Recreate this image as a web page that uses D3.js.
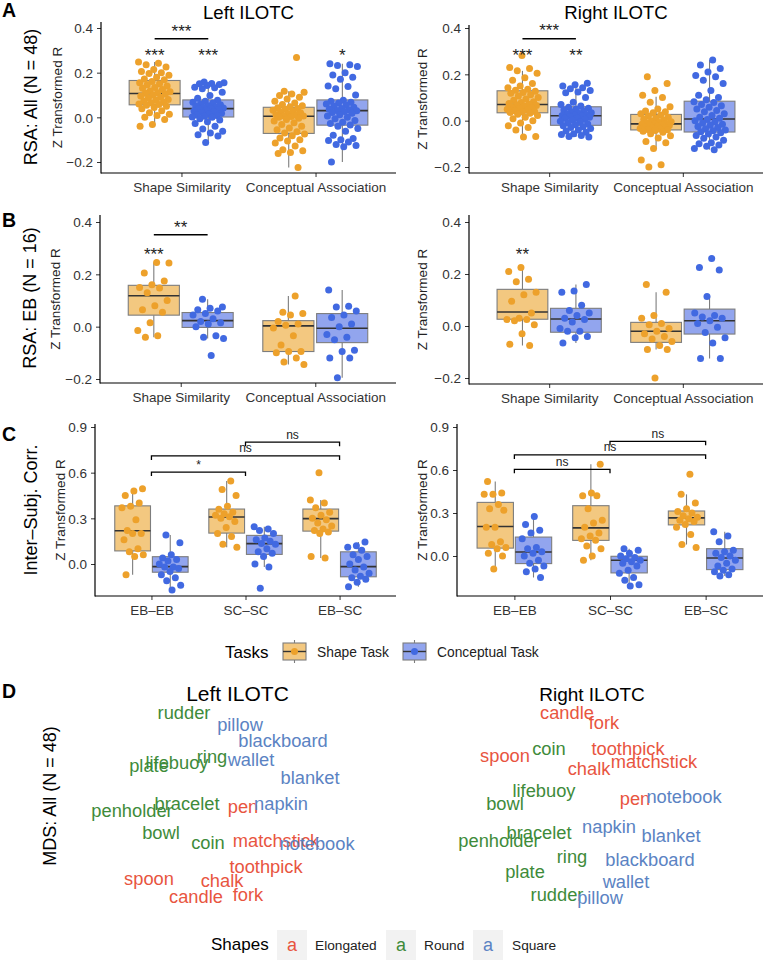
<!DOCTYPE html>
<html><head><meta charset="utf-8">
<script src="https://cdn.jsdelivr.net/npm/d3@7"></script>
<style>body{margin:0;background:#fff} svg text{font-family:"Liberation Sans",Arial,Helvetica,sans-serif}</style>
</head><body><svg id="c" width="765" height="960"></svg>
<script>
// ---------------- DATA ----------------
const TASKS = ["Shape Task", "Conceptual Task"];
const RSA_CATS = ["Shape Similarity", "Conceptual Association"];
const ISC_CATS = ["EB–EB", "SC–SC", "EB–SC"];
const RSA_TICKS = [-0.2, 0.0, 0.2, 0.4];
const ISC_TICKS = [0.0, 0.3, 0.6, 0.9];

// Panel A, Left ILOTC (N = 48)
const AL_shape_shapeTask = [0.248,0.242,0.236,0.225,0.214,0.205,0.200,0.196,0.188,0.180,0.172,0.168,
 0.160,0.155,0.150,0.146,0.140,0.134,0.130,0.125,0.118,0.114,0.110,0.108,
 0.104,0.100,0.095,0.090,0.086,0.080,0.076,0.072,0.068,0.064,0.060,0.057,
 0.054,0.050,0.044,0.038,0.030,0.020,0.014,0.008,0.000,-0.010,-0.032,-0.040];
const AL_shape_concTask = [0.158,0.155,0.152,0.150,0.147,0.142,0.135,0.132,0.128,0.112,0.098,0.085,
 0.076,0.072,0.068,0.064,0.060,0.056,0.052,0.050,0.046,0.044,0.042,0.040,
 0.038,0.035,0.032,0.028,0.025,0.022,0.018,0.014,0.010,0.008,0.005,0.002,
 0.000,-0.006,-0.012,-0.020,-0.028,-0.040,-0.052,-0.062,-0.070,-0.078,-0.084,-0.113];
const AL_conc_shapeTask = [0.268,0.117,0.112,0.105,0.098,0.090,0.082,0.072,0.064,0.058,0.052,0.047,
 0.043,0.040,0.036,0.032,0.028,0.024,0.020,0.016,0.012,0.009,0.007,0.006,
 0.004,0.000,-0.004,-0.010,-0.016,-0.024,-0.032,-0.040,-0.048,-0.056,-0.064,-0.070,
 -0.075,-0.082,-0.092,-0.100,-0.106,-0.115,-0.128,-0.145,-0.150,-0.158,-0.162,-0.225];
const AL_conc_concTask = [0.240,0.236,0.232,0.228,0.200,0.190,0.180,0.170,0.140,0.138,0.128,0.100,
 0.076,0.072,0.068,0.064,0.060,0.055,0.050,0.045,0.040,0.036,0.033,0.031,
 0.029,0.026,0.022,0.018,0.012,0.006,0.000,-0.006,-0.014,-0.022,-0.028,-0.034,
 -0.040,-0.050,-0.062,-0.080,-0.095,-0.100,-0.104,-0.110,-0.122,-0.126,-0.132,-0.200];
// box stats: [lower whisker, Q1, median, Q3, upper whisker]
const AL_boxes = [[-0.040,0.056,0.107,0.165,0.248],[-0.113,0.0015,0.039,0.078,0.158],
                  [-0.225,-0.072,0.005,0.045,0.117],[-0.200,-0.035,0.030,0.078,0.240]];

// Panel A, Right ILOTC
const AR_shape_shapeTask = [0.281,0.230,0.225,0.215,0.205,0.185,0.175,0.160,0.150,0.142,0.136,0.131,
 0.127,0.122,0.118,0.112,0.106,0.100,0.094,0.088,0.082,0.078,0.074,0.071,
 0.069,0.066,0.062,0.058,0.055,0.052,0.049,0.046,0.043,0.040,0.037,0.035,
 0.032,0.028,0.022,0.015,0.008,0.000,-0.010,-0.022,-0.030,-0.040,-0.068,-0.071];
const AR_shape_concTask = [0.162,0.155,0.150,0.142,0.138,0.130,0.124,0.120,0.100,0.080,0.070,0.063,
 0.058,0.054,0.050,0.046,0.042,0.038,0.034,0.031,0.028,0.025,0.023,0.022,
 0.020,0.018,0.015,0.012,0.010,0.006,0.002,-0.002,-0.006,-0.010,-0.014,-0.018,
 -0.022,-0.026,-0.030,-0.034,-0.040,-0.045,-0.050,-0.056,-0.060,-0.064,-0.068,-0.070];
const AR_conc_shapeTask = [0.190,0.160,0.130,0.110,0.100,0.080,0.060,0.050,0.042,0.038,0.034,0.030,
 0.025,0.020,0.015,0.010,0.006,0.002,-0.002,-0.005,-0.008,-0.010,-0.012,-0.013,
 -0.015,-0.017,-0.019,-0.021,-0.024,-0.027,-0.030,-0.032,-0.034,-0.036,-0.038,-0.039,
 -0.042,-0.046,-0.050,-0.056,-0.065,-0.075,-0.090,-0.095,-0.120,-0.170,-0.190,-0.200];
const AR_conc_concTask = [0.262,0.240,0.225,0.210,0.195,0.190,0.175,0.160,0.130,0.110,0.100,0.090,
 0.082,0.078,0.070,0.064,0.058,0.050,0.044,0.038,0.030,0.022,0.015,0.010,
 0.005,0.000,-0.005,-0.010,-0.015,-0.020,-0.025,-0.030,-0.035,-0.040,-0.044,-0.048,
 -0.052,-0.058,-0.064,-0.070,-0.076,-0.085,-0.095,-0.100,-0.105,-0.110,-0.120,-0.125];
const AR_boxes = [[-0.071,0.034,0.070,0.129,0.215],[-0.070,-0.020,0.021,0.060,0.162],
                  [-0.120,-0.040,-0.014,0.027,0.103],[-0.125,-0.049,0.007,0.084,0.262]];

// Panel B, EB (N = 16)
const BL_shape_shapeTask = [0.243,0.245,0.205,0.175,0.160,0.150,0.148,0.130,0.100,0.080,0.065,0.055,0.015,-0.015,-0.035,-0.040];
const BL_shape_concTask = [0.105,0.075,0.070,0.065,0.060,0.050,0.045,0.030,0.020,0.015,0.010,0.000,-0.035,-0.040,-0.045,-0.110];
const BL_conc_shapeTask = [0.117,0.055,0.050,0.045,0.020,0.010,0.005,-0.005,-0.035,-0.070,-0.095,-0.095,-0.100,-0.120,-0.135,-0.145];
const BL_conc_concTask = [0.140,0.078,0.075,0.060,0.045,0.035,0.010,0.000,-0.030,-0.040,-0.050,-0.090,-0.095,-0.120,-0.120,-0.195];
const BL_boxes = [[-0.040,0.044,0.118,0.158,0.245],[-0.045,-0.003,0.023,0.054,0.105],
                  [-0.145,-0.095,0.003,0.023,0.117],[-0.195,-0.061,-0.006,0.050,0.140]];
const BR_shape_shapeTask = [0.225,0.210,0.180,0.170,0.130,0.120,0.095,0.050,0.030,0.025,0.025,0.020,0.005,-0.030,-0.070,-0.075];
const BR_shape_concTask = [0.160,0.135,0.130,0.080,0.060,0.050,0.040,0.030,0.025,0.015,-0.010,-0.020,-0.020,-0.040,-0.045,-0.065];
const BR_conc_shapeTask = [0.160,0.130,0.040,0.030,0.010,0.005,-0.010,-0.020,-0.030,-0.040,-0.050,-0.060,-0.075,-0.090,-0.090,-0.200];
const BR_conc_concTask = [0.260,0.225,0.215,0.113,0.050,0.040,0.035,0.030,0.020,0.010,-0.005,-0.025,-0.045,-0.065,-0.125,-0.125];
const BR_boxes = [[-0.075,0.026,0.054,0.141,0.225],[-0.065,-0.024,0.027,0.068,0.160],
                  [-0.090,-0.063,-0.020,0.014,0.130],[-0.125,-0.031,0.020,0.065,0.113]];

// Panel C, inter-subject correlation
const CL_EBEB_shapeTask = [0.495,0.480,0.450,0.400,0.380,0.370,0.290,0.220,0.200,0.200,0.160,0.100,0.080,0.060,0.050,-0.070];
const CL_EBEB_concTask = [0.190,0.140,0.060,0.040,0.030,0.020,0.000,-0.020,-0.020,-0.030,-0.050,-0.070,-0.090,-0.110,-0.140,-0.170];
const CL_SCSC_shapeTask = [0.545,0.490,0.450,0.380,0.360,0.340,0.330,0.320,0.310,0.300,0.280,0.240,0.200,0.180,0.130,0.110];
const CL_SCSC_concTask = [0.245,0.230,0.220,0.200,0.170,0.160,0.150,0.135,0.130,0.100,0.080,0.070,0.050,0.000,-0.020,-0.160];
const CL_EBSC_shapeTask = [0.600,0.420,0.400,0.370,0.340,0.320,0.300,0.290,0.270,0.250,0.230,0.220,0.210,0.200,0.050,0.040];
const CL_EBSC_concTask = [0.145,0.120,0.110,0.090,0.060,0.050,0.030,0.000,-0.020,-0.040,-0.060,-0.080,-0.090,-0.100,-0.120,-0.150];
const CL_boxes = [[-0.070,0.086,0.218,0.382,0.495],[-0.170,-0.054,-0.017,0.048,0.190],
                  [0.110,0.203,0.309,0.361,0.545],[-0.020,0.063,0.134,0.188,0.245],
                  [0.040,0.216,0.298,0.361,0.420],[-0.150,-0.084,-0.017,0.080,0.145]];
const CR_EBEB_shapeTask = [0.520,0.440,0.430,0.430,0.360,0.330,0.320,0.200,0.200,0.100,0.080,0.060,0.050,0.020,0.000,-0.090];
const CR_EBEB_concTask = [0.275,0.220,0.180,0.160,0.120,0.060,0.050,0.030,0.020,0.000,-0.030,-0.050,-0.070,-0.090,-0.110,-0.150];
const CR_SCSC_shapeTask = [0.640,0.440,0.420,0.420,0.330,0.250,0.230,0.200,0.160,0.140,0.120,0.110,0.070,0.050,0.000,-0.030];
const CR_SCSC_concTask = [0.050,0.040,0.020,0.000,-0.010,-0.020,-0.030,-0.040,-0.050,-0.070,-0.100,-0.120,-0.150,-0.170,-0.200,-0.210];
const CR_EBSC_shapeTask = [0.570,0.430,0.370,0.330,0.310,0.300,0.280,0.270,0.260,0.250,0.240,0.220,0.200,0.150,0.080,0.060];
const CR_EBSC_concTask = [0.170,0.140,0.100,0.040,0.030,0.020,0.000,-0.010,-0.030,-0.050,-0.070,-0.090,-0.100,-0.110,-0.130,-0.140];
const CR_boxes = [[-0.090,0.055,0.206,0.374,0.520],[-0.150,-0.053,0.028,0.132,0.275],
                  [-0.030,0.109,0.196,0.351,0.640],[-0.210,-0.118,-0.030,-0.002,0.050],
                  [0.080,0.217,0.266,0.314,0.430],[-0.140,-0.095,-0.014,0.051,0.170]];

// significance annotations (y in data units)
const AL_marks = [{cat:"Shape Similarity",task:0,label:"***",v:0.297},{cat:"Shape Similarity",task:1,label:"***",v:0.297},{cat:"Conceptual Association",task:1,label:"*",v:0.297}];
const AR_marks = [{cat:"Shape Similarity",task:0,label:"***",v:0.299},{cat:"Shape Similarity",task:1,label:"**",v:0.299}];
const BL_marks = [{cat:"Shape Similarity",task:0,label:"***",v:0.291}];
const BR_marks = [{cat:"Shape Similarity",task:0,label:"**",v:0.292}];
const AL_pair = [{cat:"Shape Similarity",label:"***",line:0.352,text:0.404}];
const AR_pair = [{cat:"Shape Similarity",label:"***",line:0.354,text:0.407}];
const BL_pair = [{cat:"Shape Similarity",label:"**",line:0.351,text:0.395}];
const BR_pair = [];
const CL_brackets = [{from:"EB–EB",to:"SC–SC",label:"*",v:0.604},{from:"EB–EB",to:"EB–SC",label:"ns",v:0.71},{from:"SC–SC",to:"EB–SC",label:"ns",v:0.80}];
const CR_brackets = [{from:"EB–EB",to:"SC–SC",label:"ns",v:0.605},{from:"EB–EB",to:"EB–SC",label:"ns",v:0.705},{from:"SC–SC",to:"EB–SC",label:"ns",v:0.80}];

// Panel D: MDS coordinates (dim1, dim2)
const SHAPES = ["Elongated","Round","Square"];
const MDS_words = ["rudder","pillow","blackboard","ring","wallet","lifebuoy","plate","blanket","bracelet","pen","napkin","penholder","bowl","coin","matchstick","notebook","toothpick","spoon","chalk","candle","fork"];
const MDS_shape = ["Round","Square","Square","Round","Square","Round","Round","Square","Round","Elongated","Square","Round","Round","Round","Elongated","Square","Elongated","Elongated","Elongated","Elongated","Elongated"];
const MDS_left_d1 = [-0.56,0.00,0.43,-0.28,0.11,-0.63,-0.91,0.70,-0.53,0.03,0.41,-1.08,-0.79,-0.32,0.36,0.77,0.26,-0.91,-0.18,-0.44,0.08];
const MDS_left_d2 = [0.92,0.80,0.64,0.48,0.45,0.42,0.39,0.27,0.01,-0.02,0.01,-0.06,-0.28,-0.38,-0.36,-0.39,-0.62,-0.74,-0.76,-0.92,-0.90];
const MDS_right_d1 = [-0.43,0.00,0.50,-0.28,0.26,-0.56,-0.75,0.71,-0.61,0.35,0.09,-1.01,-0.95,-0.51,0.54,0.84,0.28,-0.95,-0.11,-0.33,0.04];
const MDS_right_d2 = [-0.90,-0.93,-0.55,-0.52,-0.77,0.14,-0.67,-0.31,-0.28,0.06,-0.22,-0.36,0.01,0.56,0.43,0.08,0.56,0.49,0.36,0.92,0.82];

// ---------------- STYLE ----------------
const PT = ["#EDA12B", "#4169E1"];
const BOXF = ["#F3C880", "#92A5EE"];
const SHAPE_COL = {Elongated:"#E8553F", Round:"#3E8B3A", Square:"#5B83C3"};
const TXT = "#222";

const svg = d3.select("#c");
const fmt = d3.format(".1f");

function jit(i, seed){ const f = (i*0.6180339887 + seed*0.3711) % 1; return f - 0.5; }

function boxPanel(p){
  const g = svg.append("g");
  const x = d3.scalePoint().domain(p.cats).range([p.x0, p.x1]).padding(0.6);
  const step = x.step();
  const y = d3.scaleLinear().domain(p.dom).range(p.rng);
  const dodge = [-0.2*step, 0.2*step], bw = 0.38*step;
  p.groups.forEach(gr => {
    const cx = x(gr.cat) + dodge[gr.task];
    const [lw,q1,md,q3,uw] = gr.box;
    g.append("line").attr("x1",cx).attr("x2",cx).attr("y1",y(uw)).attr("y2",y(q3)).attr("stroke","#7d7d7d").attr("stroke-width",1.1);
    g.append("line").attr("x1",cx).attr("x2",cx).attr("y1",y(q1)).attr("y2",y(lw)).attr("stroke","#7d7d7d").attr("stroke-width",1.1);
    g.append("rect").attr("x",cx-bw/2).attr("y",y(q3)).attr("width",bw).attr("height",y(q1)-y(q3))
      .attr("fill",BOXF[gr.task]).attr("stroke","#7d7d7d").attr("stroke-width",1.1);
    g.append("line").attr("x1",cx-bw/2).attr("x2",cx+bw/2).attr("y1",y(md)).attr("y2",y(md)).attr("stroke","#333").attr("stroke-width",1.6);
  });
  p.groups.forEach((gr,gi) => {
    const cx = x(gr.cat) + dodge[gr.task];
    g.selectAll(null).data(gr.pts).enter().append("circle")
      .attr("cx",(d,i)=>cx + jit(i,gi+p.seed)*0.24*step).attr("cy",d=>y(d)).attr("r",3.5).attr("fill",PT[gr.task]);
  });
  const ya = g.append("g").attr("transform",`translate(${p.x0},0)`)
    .call(d3.axisLeft(y).tickValues(p.ticks).tickFormat(fmt).tickSize(4).tickPadding(4));
  ya.select(".domain").remove();
  ya.selectAll("line").attr("stroke","#333");
  ya.selectAll("text").attr("font-size",13.5).attr("fill","#333").attr("font-family",null).attr("dy","0.35em");
  g.append("line").attr("x1",p.x0).attr("x2",p.x0).attr("y1",p.yTop).attr("y2",p.yBot+0.5).attr("stroke","#000").attr("stroke-width",1.2);
  const xa = g.append("g").attr("transform",`translate(0,${p.yBot})`)
    .call(d3.axisBottom(x).tickSize(4).tickSizeOuter(0).tickPadding(5.5));
  xa.select(".domain").remove();
  xa.selectAll("line").attr("stroke","#333");
  xa.selectAll("text").attr("font-size",13.5).attr("fill","#333").attr("font-family",null);
  g.append("line").attr("x1",p.x0).attr("x2",p.x1).attr("y1",p.yBot).attr("y2",p.yBot).attr("stroke","#000").attr("stroke-width",1.2);
  g.append("text").attr("transform",`translate(${p.ylabX},${(p.yTop+p.yBot)/2}) rotate(-90)`).attr("dy","0.35em")
    .attr("text-anchor","middle").attr("font-size",13.5).attr("fill",TXT).text("Z Transformed R");
  (p.marks||[]).forEach(m => {
    g.append("text").attr("x",x(m.cat)+dodge[m.task]).attr("y",y(m.v)+9.5).attr("text-anchor","middle")
      .attr("font-size",17).attr("fill",TXT).text(m.label);
  });
  (p.pairs||[]).forEach(m => {
    const c = x(m.cat);
    g.append("line").attr("x1",c+dodge[0]).attr("x2",c+dodge[1]).attr("y1",y(m.line)).attr("y2",y(m.line)).attr("stroke","#000").attr("stroke-width",1.5);
    g.append("text").attr("x",c).attr("y",y(m.text)+9.5).attr("text-anchor","middle").attr("font-size",17).attr("fill",TXT).text(m.label);
  });
  (p.brackets||[]).forEach(b => {
    const xa1 = x(b.from), xa2 = x(b.to), yy = y(b.v);
    g.append("path").attr("d",`M${xa1},${yy+4}V${yy}H${xa2}V${yy+4}`).attr("fill","none").attr("stroke","#000").attr("stroke-width",1.3);
    g.append("text").attr("x",(xa1+xa2)/2).attr("y",yy-3.5).attr("text-anchor","middle").attr("font-size",12).attr("fill",TXT).text(b.label);
  });
  if (p.title) g.append("text").attr("x",(p.x0+p.x1)/2).attr("y",18.5).attr("text-anchor","middle").attr("font-size",18.6).attr("fill","#000").text(p.title);
}

function groupsRSA(arrs, boxes){
  return [
    {cat:RSA_CATS[0],task:0,pts:arrs[0],box:boxes[0]},
    {cat:RSA_CATS[0],task:1,pts:arrs[1],box:boxes[1]},
    {cat:RSA_CATS[1],task:0,pts:arrs[2],box:boxes[2]},
    {cat:RSA_CATS[1],task:1,pts:arrs[3],box:boxes[3]}];
}
function groupsISC(arrs, boxes){
  return arrs.map((a,i)=>({cat:ISC_CATS[Math.floor(i/2)],task:i%2,pts:a,box:boxes[i]}));
}

boxPanel({cats:RSA_CATS,x0:101,x1:396,yTop:22,yBot:173,dom:[-0.2,0.4],rng:[162,28],ticks:RSA_TICKS,ylabX:57,seed:0,title:"Left ILOTC",
  groups:groupsRSA([AL_shape_shapeTask,AL_shape_concTask,AL_conc_shapeTask,AL_conc_concTask],AL_boxes),marks:AL_marks,pairs:AL_pair});
boxPanel({cats:RSA_CATS,x0:469,x1:763,yTop:25,yBot:173,dom:[-0.2,0.4],rng:[167,28],ticks:RSA_TICKS,ylabX:422,seed:4,title:"Right ILOTC",
  groups:groupsRSA([AR_shape_shapeTask,AR_shape_concTask,AR_conc_shapeTask,AR_conc_concTask],AR_boxes),marks:AR_marks,pairs:AR_pair});
boxPanel({cats:RSA_CATS,x0:100,x1:396,yTop:215,yBot:383,dom:[-0.2,0.4],rng:[379,222],ticks:RSA_TICKS,ylabX:55,seed:8,
  groups:groupsRSA([BL_shape_shapeTask,BL_shape_concTask,BL_conc_shapeTask,BL_conc_concTask],BL_boxes),marks:BL_marks,pairs:BL_pair});
boxPanel({cats:RSA_CATS,x0:469,x1:763,yTop:215,yBot:384,dom:[-0.2,0.4],rng:[378,222],ticks:RSA_TICKS,ylabX:422,seed:12,
  groups:groupsRSA([BR_shape_shapeTask,BR_shape_concTask,BR_conc_shapeTask,BR_conc_concTask],BR_boxes),marks:BR_marks,pairs:BR_pair});
boxPanel({cats:ISC_CATS,x0:95,x1:396,yTop:424,yBot:596,dom:[0,0.9],rng:[564,427],ticks:ISC_TICKS,ylabX:60,seed:16,
  groups:groupsISC([CL_EBEB_shapeTask,CL_EBEB_concTask,CL_SCSC_shapeTask,CL_SCSC_concTask,CL_EBSC_shapeTask,CL_EBSC_concTask],CL_boxes),brackets:CL_brackets});
boxPanel({cats:ISC_CATS,x0:457,x1:763,yTop:424,yBot:596,dom:[0,0.9],rng:[556,427],ticks:ISC_TICKS,ylabX:422,seed:22,
  groups:groupsISC([CR_EBEB_shapeTask,CR_EBEB_concTask,CR_SCSC_shapeTask,CR_SCSC_concTask,CR_EBSC_shapeTask,CR_EBSC_concTask],CR_boxes),brackets:CR_brackets});

[["A",17],["B",227],["C",440.5],["D",698]].forEach(([t,yb])=>{
  svg.append("text").attr("x",2).attr("y",yb).attr("font-size",19.5).attr("font-weight","bold").attr("fill","#000").text(t);
});
[["RSA: All (N = 48)",31,97],["RSA: EB (N = 16)",30,298],["Inter–Subj. Corr.",31,510],["MDS: All (N = 48)",50,796]].forEach(([t,cx,cy])=>{
  svg.append("text").attr("transform",`translate(${cx},${cy}) rotate(-90)`).attr("dy","0.35em").attr("text-anchor","middle")
    .attr("font-size",18).attr("fill","#000").text(t);
});

// Tasks legend
svg.append("text").attr("x",225).attr("y",658).attr("font-size",17).attr("fill","#000").text("Tasks");
[[283,317],[403,437]].forEach(([kx,lx],i)=>{
  const cx = kx+11.5;
  svg.append("line").attr("x1",cx).attr("x2",cx).attr("y1",640).attr("y2",663).attr("stroke","#7d7d7d").attr("stroke-width",1.1);
  svg.append("rect").attr("x",kx).attr("y",643).attr("width",23).attr("height",17).attr("fill",BOXF[i]).attr("stroke","#7d7d7d").attr("stroke-width",1.1);
  svg.append("line").attr("x1",kx).attr("x2",kx+23).attr("y1",651.5).attr("y2",651.5).attr("stroke","#333").attr("stroke-width",1.4);
  svg.append("circle").attr("cx",cx).attr("cy",651.5).attr("r",3.5).attr("fill",PT[i]);
  svg.append("text").attr("x",lx).attr("y",657).attr("font-size",13.8).attr("fill",TXT).text(TASKS[i]);
});

// Panel D
function mdsPanel(cx, tx, tsize, title, d1, d2){
  const x = d3.scaleLinear().domain([-1,1]).range([cx-100,cx+100]);
  const y = d3.scaleLinear().domain([-1,1]).range([905,705]);
  svg.append("text").attr("x",tx).attr("y",700.5).attr("text-anchor","middle").attr("font-size",tsize)
    .attr("fill","#000").text(title);
  svg.selectAll(null).data(MDS_words).enter().append("text")
    .attr("x",(d,i)=>x(d1[i])).attr("y",(d,i)=>y(d2[i])).attr("dy","0.35em").attr("text-anchor","middle")
    .attr("font-size",18.3).attr("fill",(d,i)=>SHAPE_COL[MDS_shape[i]]).text(d=>d);
}
mdsPanel(240,237.5,21,"Left ILOTC",MDS_left_d1,MDS_left_d2);
mdsPanel(600,592,19,"Right ILOTC",MDS_right_d1,MDS_right_d2);

// Shapes legend
svg.append("text").attr("x",211).attr("y",950).attr("font-size",17).attr("fill","#000").text("Shapes");
[[277,315],[386,424],[473,512]].forEach(([bx,lx],i)=>{
  svg.append("rect").attr("x",bx).attr("y",930).attr("width",30).attr("height",30).attr("fill","#F2F2F2");
  svg.append("text").attr("x",bx+15).attr("y",951).attr("text-anchor","middle").attr("font-size",18).attr("fill",SHAPE_COL[SHAPES[i]]).text("a");
  svg.append("text").attr("x",lx).attr("y",950).attr("font-size",13.7).attr("fill",TXT).text(SHAPES[i]);
});
</script></body></html>
